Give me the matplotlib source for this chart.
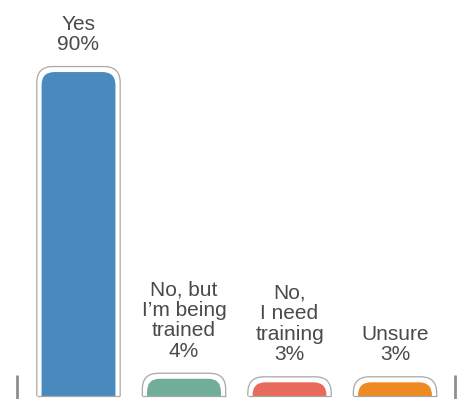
import matplotlib
matplotlib.use("Agg")
import matplotlib.pyplot as plt
from matplotlib.patches import FancyBboxPatch, Rectangle

# data
labels = ["Yes", "No, but\nI\u2019m being\ntrained", "No,\nI need\ntraining", "Unsure"]
values = [90, 4, 3, 3]
colors = ["#4a89be", "#70ae98", "#e86a5c", "#ee8a22"]

plt.rcParams['font.family'] = ['Liberation Sans', 'DejaVu Sans']

fig = plt.figure(figsize=(4.6, 3.99), dpi=100)
ax = fig.add_axes([0, 0, 1, 1])
ax.set_xlim(-0.744, 3.616)
ax.set_ylim(-1.68, 110.2)
ax.axis('off')

# pixel sizes -> data units
px_x = 4.36 / 460
px_y = 111.88 / 399
aspect = px_y / px_x

bar_w = 0.70
box_w = 0.79
pad_y = 5.5 * px_y
base = -0.84
r_box = 16 * px_x
r_bar = 13 * px_x

for i, (v, c, lab) in enumerate(zip(values, colors, labels)):
    clip = Rectangle((i - 0.5, base), 1, 200, transform=ax.transData)
    # outline box
    top_box = v + pad_y
    box = FancyBboxPatch((i - box_w / 2, base - 30), box_w, top_box - base + 30,
                         boxstyle=f"round,pad=0,rounding_size={r_box}",
                         mutation_aspect=aspect, facecolor="white",
                         edgecolor="#a8a8a8", linewidth=0.9)
    ax.add_patch(box)
    box.set_clip_path(clip)
    # coloured bar
    bar = FancyBboxPatch((i - bar_w / 2, base - 30), bar_w, v - base + 30,
                         boxstyle=f"round,pad=0,rounding_size={r_bar}",
                         mutation_aspect=aspect, facecolor=c, edgecolor="none")
    ax.add_patch(bar)
    bar.set_clip_path(clip)
    ax.hlines(base, i - box_w / 2, i + box_w / 2, color="#a8a8a8", linewidth=0.9)
    ax.annotate(f"{lab}\n{v}%", (i, top_box), xytext=(0, 9), textcoords="offset points",
                ha="center", va="bottom", fontsize=15, color="#4a4a4a", linespacing=1.1)

# side ticks
ax.vlines([-0.583, 3.569], -1.68, 5.05, color="#8f8f8f", linewidth=2)

fig.savefig("out.png", dpi=100)
